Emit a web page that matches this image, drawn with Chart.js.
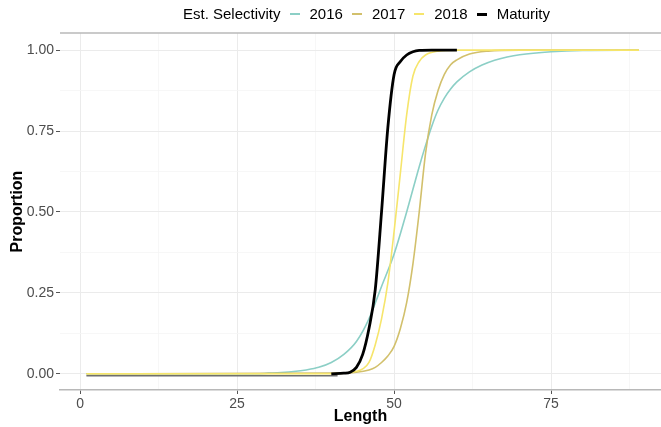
<!DOCTYPE html>
<html>
<head>
<meta charset="utf-8">
<script src="https://cdn.jsdelivr.net/npm/chart.js@4.4.1/dist/chart.umd.min.js"></script>
<style>
  body { margin: 0; background: #fff; }
  #wrap { position: relative; width: 661px; height: 427px; }
  #legend {
    position: absolute; top: 5px; left: 183px;
    display: flex; align-items: center;
    font-family: "Liberation Sans", Arial, sans-serif; font-size: 15px; line-height: 18px; color: #000;
  }
  #legend .key { display: inline-block; width: 10px; height: 2px; margin: 0 10px 0 9px; }
</style>
</head>
<body>
<div id="wrap">
  <canvas id="selectivityChart" width="661" height="427"></canvas>
  <div id="legend"></div>
</div>
<script>
// Series data (length, proportion)
const len2016 = [1, 28, 30, 32, 34, 36, 38, 40, 42, 44, 46, 48, 50, 52, 54, 55, 56, 57, 58, 59, 60, 62, 64, 66, 68, 70, 75, 80, 89];
const sel2016 = [0, 0, 0.002, 0.004, 0.007, 0.012, 0.02, 0.035, 0.06, 0.10, 0.17, 0.27, 0.37, 0.50, 0.64, 0.705, 0.765, 0.815, 0.852, 0.88, 0.902, 0.933, 0.954, 0.969, 0.979, 0.986, 0.995, 0.999, 1];

const len2017 = [1, 40, 44, 46, 47, 48, 49, 50, 51, 52, 53, 54, 55, 56, 57, 58, 59, 60, 62, 65, 70, 89];
const sel2017 = [0, 0.002, 0.005, 0.012, 0.02, 0.035, 0.055, 0.085, 0.14, 0.22, 0.34, 0.50, 0.68, 0.80, 0.875, 0.925, 0.955, 0.97, 0.988, 0.997, 1, 1];

const len2018 = [1, 40, 42, 44, 45, 46, 47, 48, 49, 50, 51, 52, 53, 54, 55, 57, 60, 89];
const sel2018 = [0, 0, 0.002, 0.008, 0.015, 0.035, 0.09, 0.17, 0.28, 0.44, 0.62, 0.80, 0.92, 0.965, 0.985, 0.997, 1, 1];

const lenMaturity = [40, 42, 43, 44, 45, 46, 47, 48, 49, 50, 51, 52, 53, 54, 56, 60];
const propMaturity = [0, 0.002, 0.005, 0.02, 0.06, 0.14, 0.26, 0.50, 0.76, 0.925, 0.965, 0.985, 0.995, 0.999, 1, 1];

// dark line under the others near zero
const lenBase = [1, 41];
const propBase = [-0.006, -0.006];

const seriesNames = ['2016', '2017', '2018', 'Maturity'];
const seriesColors = ['#8ccfc6', '#d2c06c', '#f6e56b', '#000000'];
const legendTitle = 'Est. Selectivity';

const xTicks = [0, 12.5, 25, 37.5, 50, 62.5, 75, 87.5];
const yTicks = [0, 0.125, 0.25, 0.375, 0.5, 0.625, 0.75, 0.875, 1];

function toPoints(xs, ys) {
    return xs.map((x, i) => ({ x: x, y: ys[i] }));
}

function isMajorX(v) { return v % 25 === 0; }
function isMajorY(v) { return v % 0.25 === 0; }

// Build the legend
function buildLegend() {
    const legend = document.getElementById('legend');
    let html = `<span>${legendTitle}</span>`;
    seriesNames.forEach((name, i) => {
        const h = name === 'Maturity' ? 3 : 2;
        html += `<span class="key" style="background:${seriesColors[i]};height:${h}px"></span><span>${name}</span>`;
    });
    legend.innerHTML = html;
}

// Top panel border
const topBorder = {
    id: 'topBorder',
    afterDraw(chart) {
        const { ctx, chartArea } = chart;
        ctx.save();
        ctx.strokeStyle = '#b8b8b8';
        ctx.lineWidth = 1.5;
        ctx.beginPath();
        ctx.moveTo(chartArea.left, chartArea.top);
        ctx.lineTo(chartArea.right, chartArea.top);
        ctx.stroke();
        ctx.restore();
    }
};

function initializeChart() {
    const ctx = document.getElementById('selectivityChart');
    const lineOpts = { pointRadius: 0, cubicInterpolationMode: 'monotone', fill: false };

    new Chart(ctx, {
        type: 'line',
        data: {
            datasets: [
                Object.assign({ label: seriesNames[3], data: toPoints(lenMaturity, propMaturity), borderColor: seriesColors[3], borderWidth: 2.8 }, lineOpts),
                Object.assign({ label: seriesNames[2], data: toPoints(len2018, sel2018), borderColor: seriesColors[2], borderWidth: 1.6 }, lineOpts),
                Object.assign({ label: seriesNames[1], data: toPoints(len2017, sel2017), borderColor: seriesColors[1], borderWidth: 1.6 }, lineOpts),
                Object.assign({ label: seriesNames[0], data: toPoints(len2016, sel2016), borderColor: seriesColors[0], borderWidth: 1.6 }, lineOpts),
                Object.assign({ label: 'base', data: toPoints(lenBase, propBase), borderColor: '#6f6f6f', borderWidth: 1.5 }, lineOpts)
            ]
        },
        options: {
            responsive: false,
            animation: false,
            layout: { padding: { top: 33, right: 0, bottom: 0, left: 0 } },
            plugins: {
                legend: { display: false },
                tooltip: { enabled: false }
            },
            scales: {
                x: {
                    type: 'linear',
                    min: -3.2,
                    max: 92.5,
                    afterBuildTicks: scale => { scale.ticks = xTicks.map(v => ({ value: v })); },
                    afterFit: scale => { scale.height = 37; },
                    border: { display: true, color: '#b8b8b8', width: 1.5 },
                    grid: {
                        color: c => isMajorX(c.tick.value) ? '#ebebeb' : '#f5f5f5',
                        lineWidth: c => isMajorX(c.tick.value) ? 1 : 0.8,
                        tickColor: c => isMajorX(c.tick.value) ? '#555' : 'rgba(0,0,0,0)',
                        tickLength: 4
                    },
                    ticks: {
                        autoSkip: false,
                        maxRotation: 0,
                        padding: 2,
                        color: '#4d4d4d',
                        font: { family: 'Liberation Sans', size: 14 },
                        callback: v => isMajorX(v) ? String(v) : ''
                    },
                    title: {
                        display: true,
                        text: 'Length',
                        color: '#000',
                        font: { family: 'Liberation Sans', size: 16, weight: 'bold' },
                        padding: { top: 0, bottom: 1 }
                    }
                },
                y: {
                    min: -0.05,
                    max: 1.053,
                    afterBuildTicks: scale => { scale.ticks = yTicks.map(v => ({ value: v })); },
                    afterFit: scale => { scale.width = 60; },
                    border: { display: false },
                    grid: {
                        color: c => isMajorY(c.tick.value) ? '#ebebeb' : '#f5f5f5',
                        lineWidth: c => isMajorY(c.tick.value) ? 1 : 0.8,
                        tickColor: c => isMajorY(c.tick.value) ? '#555' : 'rgba(0,0,0,0)',
                        tickLength: 4
                    },
                    ticks: {
                        autoSkip: false,
                        padding: 2,
                        color: '#4d4d4d',
                        font: { family: 'Liberation Sans', size: 14 },
                        callback: v => isMajorY(v) ? v.toFixed(2) : ''
                    },
                    title: {
                        display: true,
                        text: 'Proportion',
                        color: '#000',
                        font: { family: 'Liberation Sans', size: 16, weight: 'bold' },
                        padding: { top: 8, bottom: 0 }
                    }
                }
            }
        },
        plugins: [topBorder]
    });
}

buildLegend();
initializeChart();
</script>
</body>
</html>
